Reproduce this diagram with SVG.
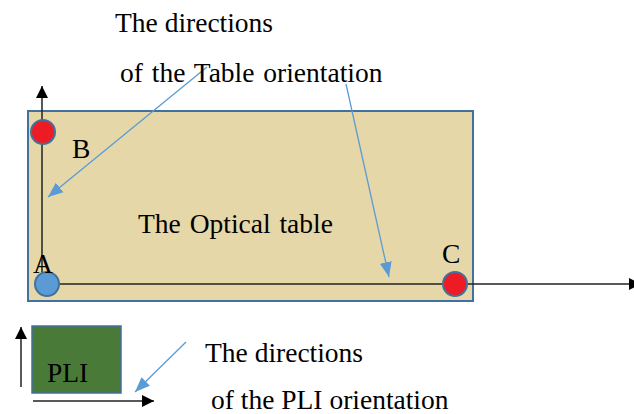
<svg xmlns="http://www.w3.org/2000/svg" width="634" height="414" viewBox="0 0 634 414">
<defs>
<marker id="blk" viewBox="0 0 10 10" refX="10" refY="5" markerWidth="12" markerHeight="12" markerUnits="userSpaceOnUse" orient="auto"><path d="M0,0 L10,5 L0,10 z" fill="#000"/></marker>
<marker id="blu" viewBox="0 0 10 10" refX="10" refY="5" markerWidth="15" markerHeight="15" markerUnits="userSpaceOnUse" orient="auto"><path d="M0,1 L10,5 L0,9 z" fill="#5B9BD5"/></marker>
</defs>
<style>
text{font-family:"Liberation Serif","Times New Roman",serif;font-size:27.5px;fill:#000}
.ax{stroke:#222;stroke-width:1.5;fill:none}
.bl{stroke:#5B9BD5;stroke-width:1.3;fill:none}
.red{fill:#ED1C24;stroke:#41719C;stroke-width:2}
.blue{fill:#5B9BD5;stroke:#41719C;stroke-width:2}
</style>
<g id="table">
<rect x="28" y="111" width="445" height="190" fill="#E6D7A9" stroke="#41719C" stroke-width="2"/>
<text x="138" y="233" word-spacing="2">The Optical table</text>
</g>
<g id="pli">
<rect x="32" y="326" width="89" height="67" fill="#4A7A37" stroke="#41719C" stroke-width="1.5"/>
<text x="47" y="382">PLI</text>
</g>
<g id="connectors">
<line class="ax" x1="42" y1="285" x2="42" y2="86" marker-end="url(#blk)"/>
<line class="ax" x1="50" y1="284" x2="641" y2="284" marker-end="url(#blk)"/>
<line class="ax" x1="21" y1="387" x2="21" y2="327" marker-end="url(#blk)"/>
<line class="ax" x1="33" y1="401" x2="154" y2="401" marker-end="url(#blk)"/>
<line class="bl" x1="207" y1="67" x2="48" y2="197" marker-end="url(#blu)"/>
<line class="bl" x1="346" y1="84" x2="389" y2="277" marker-end="url(#blu)"/>
<line class="bl" x1="186" y1="342" x2="135" y2="392" marker-end="url(#blu)"/>
</g>
<g id="nodeB"><circle class="red" cx="43" cy="132" r="12"/><text x="72" y="158">B</text></g>
<g id="nodeA"><circle class="blue" cx="47" cy="284" r="12"/><text x="33" y="273">A</text></g>
<g id="nodeC"><circle class="red" cx="455" cy="284" r="12"/><text x="442" y="263">C</text></g>
<g id="labels">
<text x="115" y="32">The directions</text>
<text x="120" y="82" word-spacing="2">of the Table  orientation</text>
<text x="205" y="362">The directions</text>
<text x="211" y="409">of the PLI orientation</text>
</g>
</svg>
